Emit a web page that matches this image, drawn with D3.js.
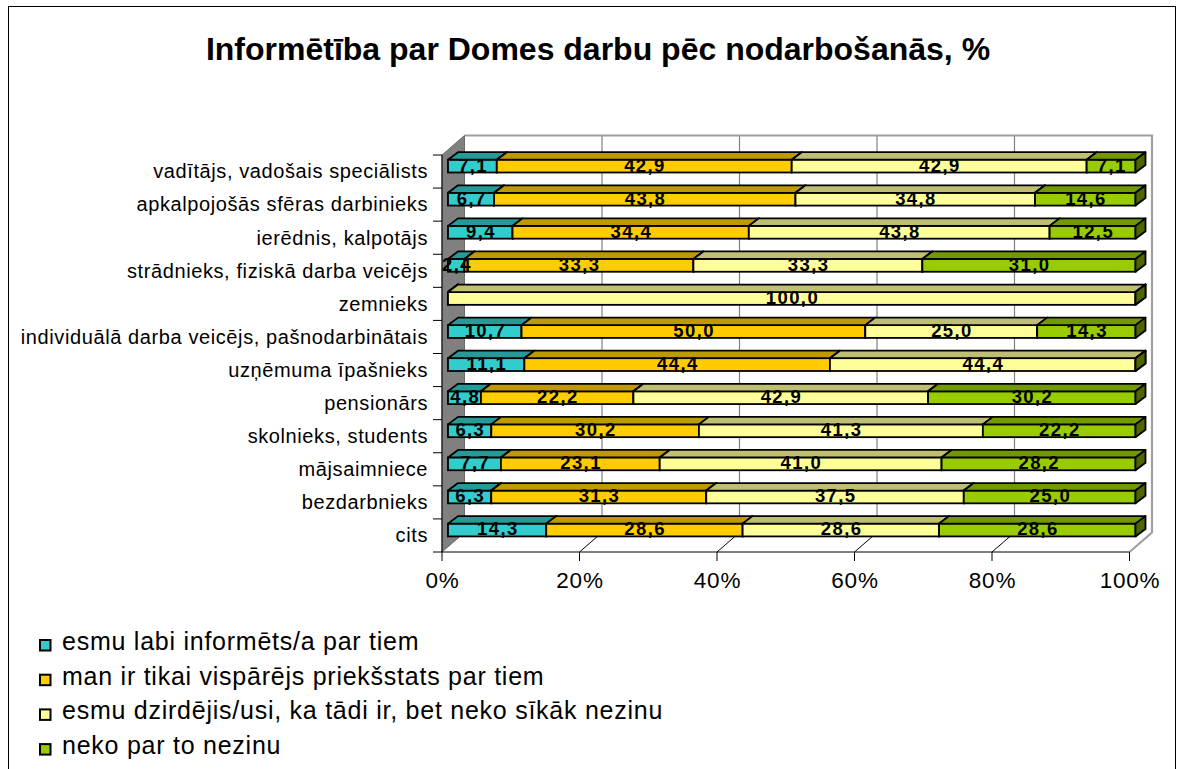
<!DOCTYPE html>
<html>
<head>
<meta charset="utf-8">
<script src="https://cdn.jsdelivr.net/npm/d3@7"></script>
<style>
  body { margin: 0; background: #fff; }
  text { font-family: Arial, "Liberation Sans", sans-serif; }
</style>
</head>
<body>
<svg id="chart" width="1186" height="769"></svg>
<script>
// dati
var categories = [
  "vadītājs, vadošais speciālists",
  "apkalpojošās sfēras darbinieks",
  "ierēdnis, kalpotājs",
  "strādnieks, fiziskā darba veicējs",
  "zemnieks",
  "individuālā darba veicējs, pašnodarbinātais",
  "uzņēmuma īpašnieks",
  "pensionārs",
  "skolnieks, students",
  "mājsaimniece",
  "bezdarbnieks",
  "cits"
];
var seriesNames = [
  "esmu labi informēts/a par tiem",
  "man ir tikai vispārējs priekšstats par tiem",
  "esmu dzirdējis/usi, ka tādi ir, bet neko sīkāk nezinu",
  "neko par to nezinu"
];
var labiInformets = [7.1, 6.7, 9.4, 2.4, 0, 10.7, 11.1, 4.8, 6.3, 7.7, 6.3, 14.3];
var visparejs     = [42.9, 43.8, 34.4, 33.3, 0, 50.0, 44.4, 22.2, 30.2, 23.1, 31.3, 28.6];
var dzirdejis     = [42.9, 34.8, 43.8, 33.3, 100.0, 25.0, 44.4, 42.9, 41.3, 41.0, 37.5, 28.6];
var nezinu        = [7.1, 14.6, 12.5, 31.0, 0, 14.3, 0, 30.2, 22.2, 28.2, 25.0, 28.6];
var xTicks = [0, 20, 40, 60, 80, 100];

var seriesValues = [labiInformets, visparejs, dzirdejis, nezinu];
// krāsas: priekša, virsa, sāns
var colors = [
  {front: "#33CCCC", top: "#269999", side: "#1a6666"},
  {front: "#FFCC00", top: "#BF9900", side: "#806600"},
  {front: "#FFFF99", top: "#BFBF73", side: "#80804d"},
  {front: "#99CC00", top: "#739900", side: "#4d6600"}
];

var svg = d3.select("#chart");

// rāmis
svg.append("rect")
  .attr("x", 8.5).attr("y", 6.5)
  .attr("width", 1167).attr("height", 800)
  .attr("fill", "none").attr("stroke", "#000").attr("stroke-width", 1);

svg.append("text")
  .attr("x", 598).attr("y", 59.5)
  .attr("text-anchor", "middle")
  .attr("font-size", 32).attr("font-weight", "bold")
  .text("Informētība par Domes darbu pēc nodarbošanās, %");

// skalas (priekšējā plakne)
var x = d3.scaleLinear().domain([0, 100]).range([442, 1129.5]);
var y = d3.scaleBand().domain(categories).range([155, 552]);
var wall = {dx: 22.5, dy: 19.5};   // sienas dziļums
var bar = {dx: 10, dy: 7.5, off: 6, top: 4.7, h: 12.8};

var yTop = y.range()[0], yBot = y.range()[1];

// aizmugurējā siena
svg.append("rect")
  .attr("x", x(0) + wall.dx).attr("y", yTop - wall.dy)
  .attr("width", x(100) - x(0)).attr("height", yBot - yTop)
  .attr("fill", "#fff");

// režģis uz aizmugurējās sienas
svg.append("g").selectAll("line")
  .data(xTicks.slice(1, -1))
  .join("line")
  .attr("x1", function(d){ return x(d) + wall.dx; })
  .attr("x2", function(d){ return x(d) + wall.dx; })
  .attr("y1", yTop - wall.dy).attr("y2", yBot - wall.dy)
  .attr("stroke", "#808080").attr("stroke-width", 1.2);

// grīdas līnijas
svg.append("g").selectAll("line")
  .data(xTicks.slice(1, -1))
  .join("line")
  .attr("x1", function(d){ return x(d); })
  .attr("x2", function(d){ return x(d) + wall.dx; })
  .attr("y1", yBot).attr("y2", yBot - wall.dy)
  .attr("stroke", "#000").attr("stroke-width", 1);

// sienas apmale (augša, labā puse, grīdas mala)
svg.append("path")
  .attr("d", "M" + (x(0) + wall.dx) + "," + (yTop - wall.dy) +
    "L" + (x(100) + wall.dx) + "," + (yTop - wall.dy) +
    "L" + (x(100) + wall.dx) + "," + (yBot - wall.dy) +
    "L" + x(100) + "," + yBot)
  .attr("fill", "none").attr("stroke", "#a0a0a0").attr("stroke-width", 2.2);

// kreisā siena
svg.append("polygon")
  .attr("points", [
    [x(0), yTop], [x(0) + wall.dx, yTop - wall.dy],
    [x(0) + wall.dx, yBot - wall.dy], [x(0), yBot]
  ].join(" "))
  .attr("fill", "#808080").attr("stroke", "#6a6a6a").attr("stroke-width", 1);

// stabiņi
var rows = categories.map(function(c, i){
  var vals = seriesValues.map(function(s){ return s[i]; });
  var total = d3.sum(vals);
  var acc = 0;
  return vals.map(function(v, k){
    var seg = {cat: c, k: k, v: v, p0: acc / total * 100, p1: (acc + v) / total * 100};
    acc += v;
    return seg;
  });
});

var bars = svg.append("g");
rows.forEach(function(row){
  row.forEach(function(s){
    var x0 = x(s.p0) + bar.off, x1 = x(s.p1) + bar.off;
    var yy = y(s.cat) + bar.top, h = bar.h;
    var c = colors[s.k];
    bars.append("rect")
      .attr("x", x0).attr("y", yy).attr("width", x1 - x0).attr("height", h)
      .attr("fill", c.front).attr("stroke", "#000").attr("stroke-width", 1.8);
    bars.append("polygon")
      .attr("points", [[x0, yy], [x0 + bar.dx, yy - bar.dy], [x1 + bar.dx, yy - bar.dy], [x1, yy]].join(" "))
      .attr("fill", c.top).attr("stroke", "#000").attr("stroke-width", 1.8).attr("stroke-linejoin", "round");
    bars.append("polygon")
      .attr("points", [[x1, yy], [x1 + bar.dx, yy - bar.dy], [x1 + bar.dx, yy + h - bar.dy], [x1, yy + h]].join(" "))
      .attr("fill", c.side).attr("stroke", "#000").attr("stroke-width", 1.8).attr("stroke-linejoin", "round");
  });
});

// vērtību etiķetes
var fmt = function(v){ return v.toFixed(1).replace(".", ","); };
svg.append("g").selectAll("text")
  .data(rows.flat().filter(function(s){ return s.v > 0; }))
  .join("text")
  .attr("x", function(s){ return (x(s.p0) + x(s.p1)) / 2 + bar.off + 0.7; })
  .attr("y", function(s){ return y(s.cat) + bar.top + bar.h - 1; })
  .attr("text-anchor", "middle")
  .attr("font-size", 18.5).attr("font-weight", "bold")
  .attr("letter-spacing", 1.4)
  .text(function(s){ return fmt(s.v); });

// y ass
var yAxis = svg.append("g");
yAxis.append("line")
  .attr("x1", x(0)).attr("x2", x(0)).attr("y1", yTop).attr("y2", yBot)
  .attr("stroke", "#000").attr("stroke-width", 1);
yAxis.selectAll(".tick")
  .data(categories.concat([null]))
  .join("line")
  .attr("class", "tick")
  .attr("x1", x(0) - 9).attr("x2", x(0))
  .attr("y1", function(d, i){ return yTop + i * y.step(); })
  .attr("y2", function(d, i){ return yTop + i * y.step(); })
  .attr("stroke", "#000").attr("stroke-width", 1);
yAxis.selectAll("text")
  .data(categories)
  .join("text")
  .attr("x", 428)
  .attr("y", function(d){ return y(d) + y.bandwidth() / 2 + 6.8; })
  .attr("text-anchor", "end")
  .attr("font-size", 20)
  .attr("letter-spacing", 0.6)
  .text(function(d){ return d; });

// x ass
var xAxis = svg.append("g");
xAxis.append("line")
  .attr("x1", x(0)).attr("x2", x(100)).attr("y1", yBot).attr("y2", yBot)
  .attr("stroke", "#000").attr("stroke-width", 1);
xAxis.selectAll(".tick")
  .data(xTicks)
  .join("line")
  .attr("class", "tick")
  .attr("x1", function(d){ return x(d); }).attr("x2", function(d){ return x(d); })
  .attr("y1", yBot).attr("y2", yBot + 9)
  .attr("stroke", "#000").attr("stroke-width", 1);
xAxis.selectAll("text")
  .data(xTicks)
  .join("text")
  .attr("x", function(d){ return x(d) + 0.5; })
  .attr("y", 588)
  .attr("text-anchor", "middle")
  .attr("font-size", 22.5)
  .attr("letter-spacing", 0.8)
  .text(function(d){ return d + "%"; });

// leģenda
var legend = svg.append("g");
var items = legend.selectAll("g")
  .data(seriesNames)
  .join("g")
  .attr("transform", function(d, i){ return "translate(40," + (640 + i * 34.7) + ")"; });
items.append("rect")
  .attr("width", 10.5).attr("height", 10.5)
  .attr("fill", function(d, i){ return colors[i].front; })
  .attr("stroke", "#000").attr("stroke-width", 2);
items.append("text")
  .attr("x", 22).attr("y", 10)
  .attr("font-size", 25)
  .attr("letter-spacing", 0.75)
  .text(function(d){ return d; });
</script>
</body>
</html>
